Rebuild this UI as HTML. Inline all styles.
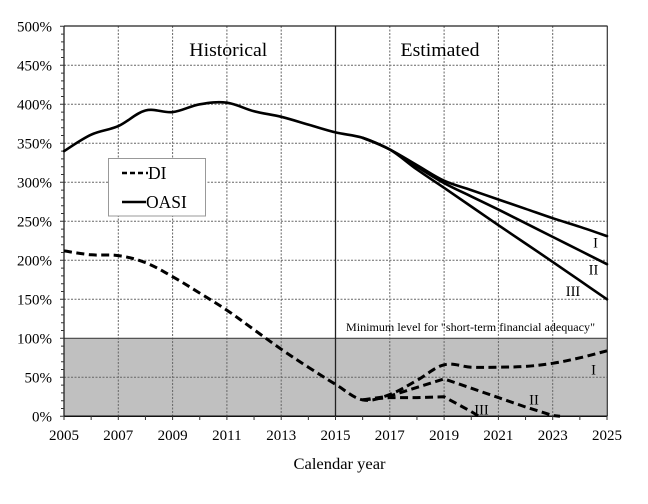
<!DOCTYPE html>
<html><head><meta charset="utf-8"><style>
html,body{margin:0;padding:0;background:#fff;}
svg{display:block;font-family:"Liberation Serif",serif;}
</style></head><body>
<svg id="chart" width="648" height="504" viewBox="0 0 648 504" xmlns="http://www.w3.org/2000/svg">
<rect x="0" y="0" width="648" height="504" fill="#fff"/>
<rect x="64" y="338.3" width="543" height="78" fill="#c0c0c0"/>
<g stroke="#666" stroke-width="1" stroke-dasharray="2,1.5" fill="none">
<line x1="64" y1="377.3" x2="607" y2="377.3"/>
<line x1="64" y1="299.3" x2="607" y2="299.3"/>
<line x1="64" y1="260.3" x2="607" y2="260.3"/>
<line x1="64" y1="221.3" x2="607" y2="221.3"/>
<line x1="64" y1="182.3" x2="607" y2="182.3"/>
<line x1="64" y1="143.3" x2="607" y2="143.3"/>
<line x1="64" y1="104.3" x2="607" y2="104.3"/>
<line x1="64" y1="65.3" x2="607" y2="65.3"/>
<line x1="118.3" y1="26" x2="118.3" y2="416"/>
<line x1="172.6" y1="26" x2="172.6" y2="416"/>
<line x1="226.9" y1="26" x2="226.9" y2="416"/>
<line x1="281.2" y1="26" x2="281.2" y2="416"/>
<line x1="389.8" y1="26" x2="389.8" y2="416"/>
<line x1="444.1" y1="26" x2="444.1" y2="416"/>
<line x1="498.4" y1="26" x2="498.4" y2="416"/>
<line x1="552.7" y1="26" x2="552.7" y2="416"/>
</g>
<line x1="64" y1="338.3" x2="607" y2="338.3" stroke="#444" stroke-width="1.2"/>
<line x1="335.5" y1="26" x2="335.5" y2="416.3" stroke="#222" stroke-width="1.3"/>
<line x1="64" y1="26" x2="607.5" y2="26" stroke="#222" stroke-width="1.3"/>
<line x1="607.3" y1="26" x2="607.3" y2="416.3" stroke="#333" stroke-width="1.2"/>
<line x1="64" y1="26" x2="64" y2="416.3" stroke="#222" stroke-width="1.3"/>
<line x1="64" y1="416.3" x2="607.5" y2="416.3" stroke="#111" stroke-width="1.5"/>
<g stroke="#333" stroke-width="1">
<path d="M60 416.3H64M61 408.5H64M61 400.7H64M61 392.9H64M61 385.1H64M60 377.3H64M61 369.5H64M61 361.7H64M61 353.9H64M61 346.1H64M60 338.3H64M61 330.5H64M61 322.7H64M61 314.9H64M61 307.1H64M60 299.3H64M61 291.5H64M61 283.7H64M61 275.9H64M61 268.1H64M60 260.3H64M61 252.5H64M61 244.7H64M61 236.9H64M61 229.1H64M60 221.3H64M61 213.5H64M61 205.7H64M61 197.9H64M61 190.1H64M60 182.3H64M61 174.5H64M61 166.7H64M61 158.9H64M61 151.1H64M60 143.3H64M61 135.5H64M61 127.7H64M61 119.9H64M61 112.1H64M60 104.3H64M61 96.5H64M61 88.7H64M61 80.9H64M61 73.1H64M60 65.3H64M61 57.5H64M61 49.7H64M61 41.9H64M61 34.1H64M60 26.3H64"/>
<path d="M64 416V420M91.15 416V420M118.3 416V420M145.45 416V420M172.6 416V420M199.75 416V420M226.9 416V420M254.05 416V420M281.2 416V420M308.35 416V420M335.5 416V420M362.65 416V420M389.8 416V420M416.95 416V420M444.1 416V420M471.25 416V420M498.4 416V420M525.55 416V420M552.7 416V420M579.85 416V420M607 416V420"/>
</g>
<g font-size="15" text-anchor="end" fill="#000">
<text x="52" y="421.5">0%</text>
<text x="52" y="382.5">50%</text>
<text x="52" y="343.5">100%</text>
<text x="52" y="304.5">150%</text>
<text x="52" y="265.5">200%</text>
<text x="52" y="226.5">250%</text>
<text x="52" y="187.5">300%</text>
<text x="52" y="148.5">350%</text>
<text x="52" y="109.5">400%</text>
<text x="52" y="70.5">450%</text>
<text x="52" y="31.5">500%</text>
</g>
<g font-size="15" text-anchor="middle" fill="#000">
<text x="64" y="440">2005</text>
<text x="118.3" y="440">2007</text>
<text x="172.6" y="440">2009</text>
<text x="226.9" y="440">2011</text>
<text x="281.2" y="440">2013</text>
<text x="335.5" y="440">2015</text>
<text x="389.8" y="440">2017</text>
<text x="444.1" y="440">2019</text>
<text x="498.4" y="440">2021</text>
<text x="552.7" y="440">2023</text>
<text x="607" y="440">2025</text>
</g>
<text x="339.5" y="469" font-size="16" text-anchor="middle" textLength="92" lengthAdjust="spacingAndGlyphs">Calendar year</text>
<text x="228.3" y="56" font-size="18.5" text-anchor="middle" textLength="78" lengthAdjust="spacingAndGlyphs">Historical</text>
<text x="440" y="56" font-size="18.5" text-anchor="middle" textLength="79" lengthAdjust="spacingAndGlyphs">Estimated</text>
<text x="346" y="331" font-size="11.5" textLength="249" lengthAdjust="spacingAndGlyphs">Minimum level for "short-term financial adequacy"</text>
<g fill="none" stroke="#000" stroke-width="2.6" stroke-linejoin="round" stroke-linecap="round">
<polyline class="smooth" points="64,151.1 91.15,134.7 118.3,126.1 145.45,110.5 172.6,112.1 199.75,104.3 226.9,102.7 254.05,111.3 281.2,116.8 308.35,124.6 335.5,132.4 362.65,137.8 389.8,149.5 416.95,165.1 444.1,180.7 471.25,190.1 498.4,199.5 525.55,208.8 552.7,218.2 579.85,226.8 607,236.1"/>
<polyline class="smooth" points="362.65,137.8 389.8,149.5 416.95,166.7 444.1,183.1 471.25,196.4 498.4,209.6 525.55,223.2 552.7,236.9 579.85,250.5 607,264.2"/>
<polyline class="smooth" points="362.65,137.8 389.8,149.5 416.95,169.5 444.1,187.8 471.25,206.5 498.4,225.2 525.55,243.5 552.7,261.9 579.85,280.6 607,299.3"/>
</g>
<g fill="none" stroke="#000" stroke-width="3" stroke-dasharray="8,4.5" stroke-linejoin="round">
<polyline class="smooth" points="64,250.9 91.15,254.8 118.3,255.6 145.45,262.6 172.6,276.7 199.75,293.1 226.9,310.2 254.05,329.7 281.2,349.2 308.35,367.2 335.5,384.3 362.65,399.9 389.8,394.5 416.95,380.4 444.1,364.8 471.25,367.2 498.4,367.2 525.55,366.4 552.7,363.3 579.85,357.8 607,350.8"/>
<polyline points="362.65,399.9 389.8,396 416.95,387.4 444.1,378.9 471.25,388.2 498.4,397.6 525.55,407 552.7,415.5 560,416.3"/>
<polyline points="362.65,399.9 389.8,397.6 416.95,397.6 444.1,396.8 471.25,411.6 479,416.3"/>
</g>
<g font-size="14.5" fill="#000" text-anchor="middle">
<text x="595.5" y="247.5">I</text>
<text x="593.5" y="274.5">II</text>
<text x="573" y="296">III</text>
<text x="593.5" y="374.5">I</text>
<text x="534" y="404.5">II</text>
<text x="481.5" y="414.5">III</text>
</g>
<rect x="108.5" y="158.5" width="97" height="57.5" fill="#fff" stroke="#999" stroke-width="1"/>
<line x1="122" y1="173" x2="148" y2="173" stroke="#000" stroke-width="2.6" stroke-dasharray="5,3"/>
<text x="148" y="179" font-size="17.5">DI</text>
<line x1="122" y1="202" x2="146" y2="202" stroke="#000" stroke-width="2.6"/>
<text x="146" y="208" font-size="17.5">OASI</text>
</svg>
<script>
(function(){
  var NS="http://www.w3.org/2000/svg";
  var pls=document.querySelectorAll("polyline.smooth");
  for(var k=0;k<pls.length;k++){
    var pl=pls[k];
    var pts=pl.getAttribute("points").trim().split(/\s+/).map(function(s){var a=s.split(",");return [parseFloat(a[0]),parseFloat(a[1])];});
    var d="M"+pts[0][0]+" "+pts[0][1];
    var t=0.35;
    for(var i=0;i<pts.length-1;i++){
      var p0=pts[i>0?i-1:i],p1=pts[i],p2=pts[i+1],p3=pts[i+2<pts.length?i+2:i+1];
      var c1x=p1[0]+(p2[0]-p0[0])*t/2*1, c1y=p1[1]+(p2[1]-p0[1])*t/2*1;
      var c2x=p2[0]-(p3[0]-p1[0])*t/2*1, c2y=p2[1]-(p3[1]-p1[1])*t/2*1;
      d+=" C"+c1x.toFixed(2)+" "+c1y.toFixed(2)+" "+c2x.toFixed(2)+" "+c2y.toFixed(2)+" "+p2[0]+" "+p2[1];
    }
    var p=document.createElementNS(NS,"path");
    p.setAttribute("d",d);
    pl.parentNode.replaceChild(p,pl);
  }
})();
</script>
</body></html>
